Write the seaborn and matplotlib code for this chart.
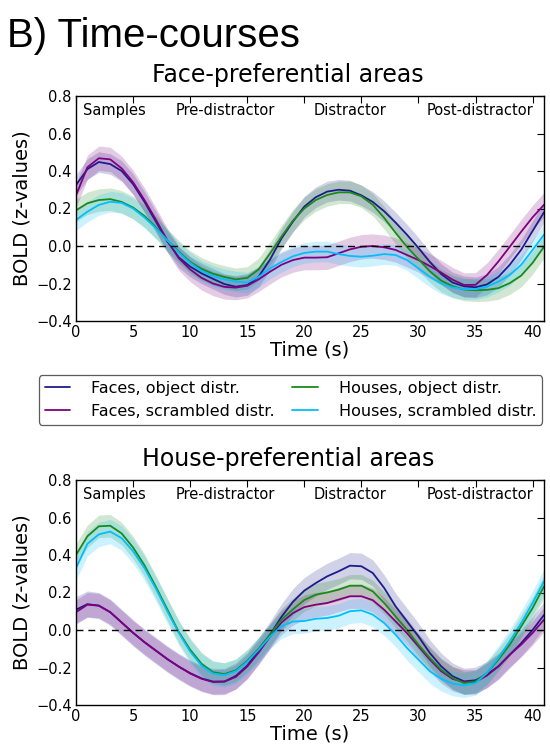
import matplotlib
matplotlib.use("Agg")
import matplotlib.pyplot as plt
import numpy as np
import pandas as pd
import seaborn as sns

# ---------------- data ----------------
time_s = list(range(42))
conditions = ["Faces, object distr.", "Faces, scrambled distr.",
              "Houses, object distr.", "Houses, scrambled distr."]
colors = ["#1c1c8c", "#800080", "#1a8a1a", "#00bfff"]

# Face-preferential areas
face_fo = [0.325, 0.41, 0.448, 0.437, 0.40, 0.33, 0.235, 0.13, 0.025, -0.06,
           -0.11, -0.146, -0.175, -0.203, -0.217, -0.208, -0.164, -0.072, 0.04, 0.13,
           0.21, 0.26, 0.29, 0.30, 0.295, 0.27, 0.235, 0.185, 0.125, 0.06,
           -0.01, -0.085, -0.15, -0.195, -0.215, -0.22, -0.205, -0.165, -0.10, -0.02,
           0.08, 0.18]
face_fs = [0.27, 0.42, 0.468, 0.462, 0.414, 0.34, 0.245, 0.14, 0.03, -0.065,
           -0.125, -0.17, -0.20, -0.218, -0.222, -0.212, -0.178, -0.137, -0.10, -0.075,
           -0.062, -0.062, -0.06, -0.039, -0.018, -0.004, 0.0, -0.007, -0.021, -0.048,
           -0.075, -0.107, -0.142, -0.18, -0.208, -0.207, -0.155, -0.083, -0.004, 0.076,
           0.153, 0.22]
face_ho = [0.19, 0.228, 0.245, 0.25, 0.235, 0.205, 0.16, 0.10, 0.03, -0.03,
           -0.085, -0.122, -0.148, -0.165, -0.178, -0.17, -0.125, -0.04, 0.05, 0.135,
           0.20, 0.245, 0.272, 0.286, 0.286, 0.265, 0.22, 0.15, 0.07, -0.005,
           -0.07, -0.135, -0.185, -0.215, -0.232, -0.236, -0.234, -0.225, -0.198, -0.158,
           -0.09, -0.004]
face_hs = [0.139, 0.183, 0.219, 0.236, 0.23, 0.20, 0.152, 0.095, 0.03, -0.035,
           -0.09, -0.133, -0.16, -0.178, -0.19, -0.195, -0.165, -0.12, -0.085, -0.055,
           -0.037, -0.03, -0.03, -0.043, -0.053, -0.057, -0.052, -0.043, -0.048, -0.075,
           -0.119, -0.164, -0.20, -0.221, -0.23, -0.23, -0.217, -0.19, -0.155, -0.10,
           -0.021, 0.06]
face_sem = [0.055, 0.065, 0.06, 0.055]

# House-preferential areas
house_fo = [0.108, 0.138, 0.13, 0.095, 0.04, -0.015, -0.065, -0.11, -0.155, -0.195,
            -0.23, -0.258, -0.275, -0.275, -0.245, -0.19, -0.11, -0.025, 0.07, 0.15,
            0.21, 0.25, 0.286, 0.313, 0.343, 0.34, 0.304, 0.224, 0.126, 0.046,
            -0.034, -0.123, -0.194, -0.247, -0.274, -0.268, -0.238, -0.194, -0.132, -0.07,
            0.0, 0.08]
house_fs = [0.095, 0.135, 0.13, 0.095, 0.04, -0.015, -0.065, -0.11, -0.155, -0.195,
            -0.232, -0.26, -0.277, -0.275, -0.25, -0.195, -0.12, -0.035, 0.04, 0.09,
            0.122, 0.135, 0.144, 0.162, 0.18, 0.18, 0.159, 0.108, 0.046, -0.017,
            -0.087, -0.158, -0.22, -0.261, -0.277, -0.277, -0.243, -0.194, -0.132, -0.078,
            -0.016, 0.055]
house_ho = [0.40, 0.50, 0.553, 0.556, 0.515, 0.44, 0.345, 0.23, 0.11, -0.01,
            -0.105, -0.18, -0.225, -0.235, -0.215, -0.165, -0.10, -0.025, 0.055, 0.11,
            0.16, 0.188, 0.20, 0.215, 0.236, 0.236, 0.206, 0.144, 0.072, 0.001,
            -0.078, -0.149, -0.212, -0.256, -0.283, -0.274, -0.23, -0.158, -0.078, 0.019,
            0.117, 0.233]
house_hs = [0.33, 0.46, 0.51, 0.525, 0.49, 0.42, 0.33, 0.22, 0.10, -0.015,
            -0.115, -0.19, -0.232, -0.24, -0.22, -0.17, -0.105, -0.035, 0.02, 0.045,
            0.048, 0.06, 0.064, 0.076, 0.10, 0.105, 0.082, 0.037, -0.025, -0.096,
            -0.158, -0.22, -0.261, -0.286, -0.295, -0.283, -0.23, -0.149, -0.06, 0.037,
            0.144, 0.259]
house_sem = [0.07, 0.065, 0.06, 0.065]

phase_labels = ["Samples", "Pre-distractor", "Distractor", "Post-distractor"]
panel_titles = ["Face-preferential areas", "House-preferential areas"]
y_ticks = [-0.4, -0.2, 0.0, 0.2, 0.4, 0.6, 0.8]
x_ticks = [0, 5, 10, 15, 20, 25, 30, 35, 40]

# ---------------- style ----------------
sns.set_theme(style="white")
plt.rcParams["font.family"] = ["DejaVu Sans"]
plt.rcParams["axes.edgecolor"] = "black"
plt.rcParams["axes.linewidth"] = 1.0
plt.rcParams["text.color"] = "black"
plt.rcParams["axes.labelcolor"] = "black"
plt.rcParams["xtick.color"] = "black"
plt.rcParams["ytick.color"] = "black"

W, H = 550, 747
fig = plt.figure(figsize=(W / 100, H / 100), dpi=100)
ax1 = fig.add_axes([76 / W, 1 - 321 / H, 468 / W, 225 / H])
ax2 = fig.add_axes([76 / W, 1 - 705 / H, 468 / W, 225 / H])

panels = [
    (ax1, [face_fo, face_fs, face_ho, face_hs], face_sem),
    (ax2, [house_fo, house_fs, house_ho, house_hs], house_sem),
]

phase_x = [3.4, 13.1, 24.0, 35.4]

for i, (ax, series, sems) in enumerate(panels):
    rows = []
    for cond, vals in zip(conditions, series):
        for t, v in zip(time_s, vals):
            rows.append({"Time": t, "BOLD": v, "cond": cond})
    df = pd.DataFrame(rows)
    for cond, vals, sem, col in zip(conditions, series, sems, colors):
        v = np.array(vals)
        ax.fill_between(time_s, v - sem, v + sem, color=col, alpha=0.2, lw=0)
    sns.lineplot(data=df, x="Time", y="BOLD", hue="cond", hue_order=conditions,
                 palette=colors, errorbar=None, lw=1.3, ax=ax, legend=(i == 0))
    ax.axhline(0, color="black", ls=(0, (5, 3.5)), lw=1.0)
    ax.set_xlim(0, 41)
    ax.set_ylim(-0.4, 0.8)
    ax.set_xticks(x_ticks)
    ax.set_yticks(y_ticks)
    ax.set_yticklabels([f"{y:.1f}".replace("-", "\u2212") for y in y_ticks])
    ax.tick_params(direction="in", length=5, width=0.8, top=True, right=True,
                   labelsize=10.5, pad=3, colors="black")
    ax.set_xlabel("Time (s)", fontsize=14, labelpad=0)
    ax.set_ylabel("BOLD (z-values)", fontsize=14, labelpad=3)
    for lab, px in zip(phase_labels, phase_x):
        ax.text(px, 0.725, lab, ha="center", va="center", fontsize=10.5)
    for s in ax.spines.values():
        s.set_color("black")
    top_px = 96 if i == 0 else 480
    fig.text(288 / W, 1 - (top_px - 14) / H, panel_titles[i], ha="center",
             va="baseline", fontsize=17)

handles, labels = ax1.get_legend_handles_labels()
ax1.get_legend().remove()
leg = fig.legend(handles, labels, loc="center", ncol=2, mode="expand",
                 bbox_to_anchor=(39 / W, 1 - 426 / H, 503 / W, 52 / H),
                 borderaxespad=0, fontsize=11.5, frameon=True, fancybox=True,
                 handlelength=1.6, borderpad=0.35, labelspacing=0.5,
                 handletextpad=1.3)
leg.get_frame().set_edgecolor("0.2")
leg.get_frame().set_linewidth(0.9)

fig.text(7 / W, 1 - 47 / H, "B) Time-courses", ha="left", va="baseline",
         fontsize=29, family=["Liberation Sans", "DejaVu Sans"])

fig.savefig("out.png", dpi=100)
